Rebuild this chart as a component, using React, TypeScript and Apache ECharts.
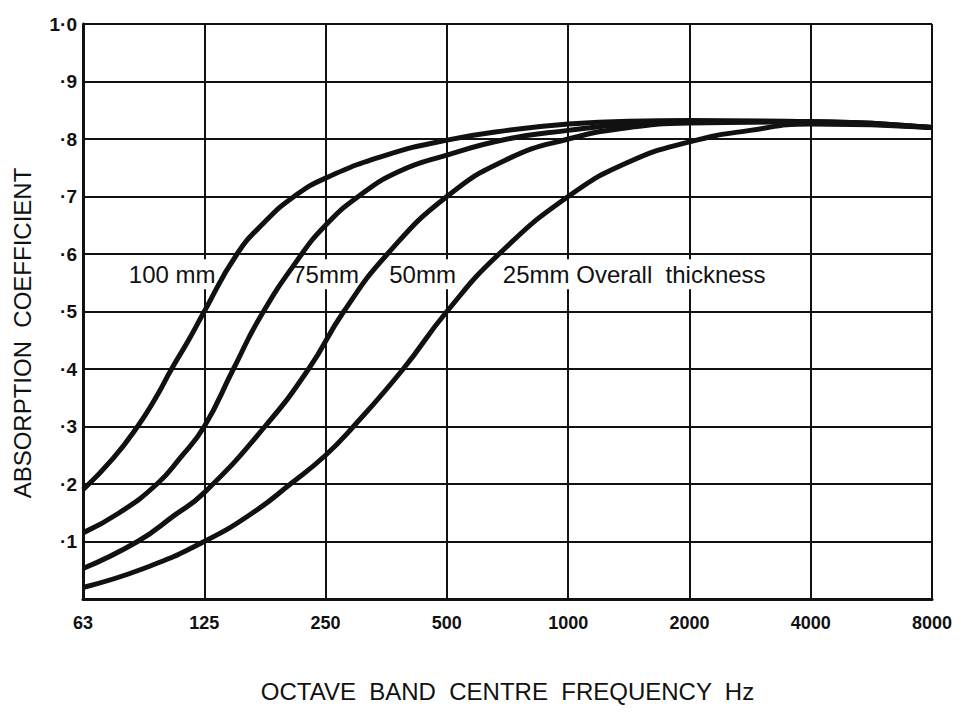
import React, { useEffect, useRef } from "react";
import * as echarts from "echarts";

// Octave band centre frequencies; x is the octave index (0 = 63 Hz).
const bandLabels = ["63", "125", "250", "500", "1000", "2000", "4000", "8000"];

// Absorption coefficient against octave index for each overall thickness.
const t100: [number, number][] = [
  [0, 0.19], [0.25, 0.245], [0.45, 0.3], [0.6, 0.35], [0.73, 0.4], [0.87, 0.45],
  [1.0, 0.5], [1.27, 0.6], [1.5, 0.656], [1.74, 0.7], [2.0, 0.732], [2.5, 0.772],
  [3.0, 0.798], [3.5, 0.815], [4.0, 0.826], [4.5, 0.831], [5.0, 0.832],
  [6.0, 0.83], [7.0, 0.82],
];
const t75: [number, number][] = [
  [0, 0.115], [0.3, 0.15], [0.61, 0.2], [0.8, 0.245], [1.0, 0.3], [1.24, 0.4],
  [1.46, 0.49], [1.77, 0.59], [2.0, 0.65], [2.27, 0.7], [2.6, 0.743], [3.0, 0.772],
  [3.5, 0.8], [4.0, 0.815], [4.5, 0.826], [5.0, 0.83], [6.0, 0.83], [7.0, 0.82],
];
const t50: [number, number][] = [
  [0, 0.053], [0.45, 0.1], [0.75, 0.145], [1.0, 0.185], [1.5, 0.3], [1.86, 0.4],
  [2.15, 0.5], [2.51, 0.6], [3.0, 0.7], [3.5, 0.765], [4.0, 0.8], [4.5, 0.82],
  [5.0, 0.828], [6.0, 0.83], [7.0, 0.82],
];
const t25: [number, number][] = [
  [0, 0.02], [0.5, 0.053], [1.0, 0.1], [1.4, 0.15], [1.71, 0.2], [2.0, 0.25],
  [2.23, 0.3], [2.64, 0.4], [3.0, 0.5], [3.43, 0.6], [4.0, 0.7], [4.5, 0.76],
  [5.0, 0.795], [5.5, 0.815], [6.0, 0.826], [7.0, 0.82],
];

// Curve annotations, anchored in data coordinates.
const curveNotes: { text: string; at: [number, number] }[] = [
  { text: "100 mm", at: [0.735, 0.565] },
  { text: "75mm", at: [2.0, 0.565] },
  { text: "50mm", at: [2.8, 0.565] },
  { text: "25mm Overall  thickness", at: [4.545, 0.565] },
];

const INK = "#111";
const FONT = "'Liberation Sans', Arial, sans-serif";

function curve(name: string, data: [number, number][]) {
  return {
    name,
    type: "line",
    data,
    smooth: 0.5,
    showSymbol: false,
    z: 5,
    lineStyle: { color: INK, width: 5 },
  };
}

export default function App() {
  const ref = useRef<HTMLDivElement>(null);

  useEffect(() => {
    if (!ref.current) return;
    const chart = echarts.init(ref.current, undefined, { renderer: "svg" });
    chart.setOption({
      animation: false,
      backgroundColor: "#fff",
      grid: { left: 75, right: 25, top: 16, bottom: 100 },
      xAxis: {
        type: "value",
        min: 0,
        max: 7,
        interval: 1,
        name: "OCTAVE  BAND  CENTRE  FREQUENCY  Hz",
        nameLocation: "middle",
        nameGap: 80,
        nameTextStyle: { color: INK, fontFamily: FONT, fontSize: 24 },
        axisLine: { show: true, lineStyle: { color: INK, width: 3 } },
        axisTick: { show: false },
        axisLabel: {
          color: INK,
          fontFamily: FONT,
          fontSize: 18,
          fontWeight: "bold",
          margin: 15,
          formatter: (v: number) => bandLabels[Math.round(v)] ?? "",
        },
        splitLine: { show: true, lineStyle: { color: INK, width: 2 } },
      },
      yAxis: {
        type: "value",
        min: 0,
        max: 1,
        interval: 0.1,
        axisLine: { show: true, lineStyle: { color: INK, width: 3 } },
        axisTick: { show: false },
        axisLabel: {
          color: INK,
          fontFamily: FONT,
          fontSize: 19,
          fontWeight: "bold",
          margin: 6,
          formatter: (v: number) => {
            const d = Math.round(v * 10);
            if (d === 0) return "";
            if (d === 10) return "1·0";
            return "·" + d;
          },
        },
        splitLine: { show: true, lineStyle: { color: INK, width: 2 } },
      },
      series: [
        curve("100mm", t100),
        curve("75mm", t75),
        curve("50mm", t50),
        curve("25mm", t25),
      ],
    });

    // Annotations sit on white boxes above the grid but under the curves.
    const notes = curveNotes.map((n) => {
      const [px, py] = chart.convertToPixel({ gridIndex: 0 }, n.at) as number[];
      return {
        type: "text",
        x: px,
        y: py,
        z: 1,
        style: {
          text: n.text,
          fill: INK,
          font: `24px ${FONT}`,
          align: "center",
          verticalAlign: "middle",
          backgroundColor: "#fff",
          padding: [3, 2, 3, 2],
        },
      };
    });

    chart.setOption({
      graphic: [
        {
          type: "text",
          x: 14,
          y: 325,
          rotation: Math.PI / 2,
          style: {
            text: "ABSORPTION  COEFFICIENT",
            fill: INK,
            font: `24px ${FONT}`,
            align: "center",
            verticalAlign: "middle",
          },
        },
        ...notes,
      ],
    });
    return () => chart.dispose();
  }, []);

  return <div ref={ref} style={{ width: 949, height: 700 }} />;
}
